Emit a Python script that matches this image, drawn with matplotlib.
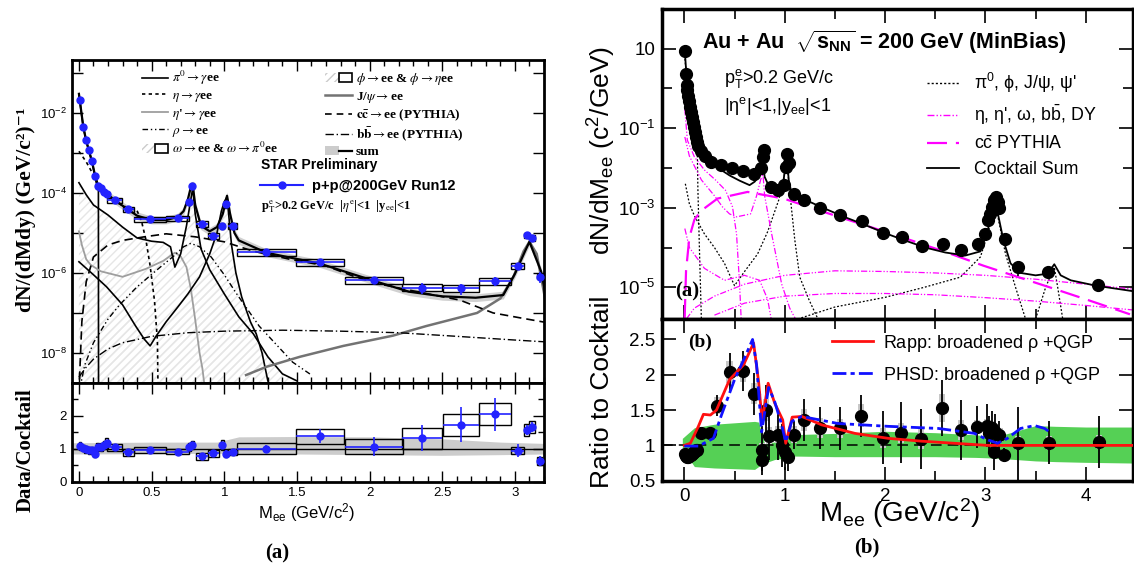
import numpy as np
import matplotlib.pyplot as plt
from matplotlib.patches import Rectangle, Patch
from matplotlib.lines import Line2D
from matplotlib.legend_handler import HandlerTuple
from matplotlib.ticker import MultipleLocator, FixedLocator, FuncFormatter, NullLocator, NullFormatter

SERIF = ['Liberation Serif', 'DejaVu Serif']
plt.rcParams['font.family'] = ['Liberation Sans', 'DejaVu Sans']
plt.rcParams['mathtext.fontset'] = 'custom'
plt.rcParams['mathtext.rm'] = 'Liberation Sans'
plt.rcParams['mathtext.it'] = 'Liberation Sans:italic'
plt.rcParams['mathtext.bf'] = 'Liberation Sans:bold'

# ---------------- panel (a): p+p 200 GeV ----------------
ppA_x = [0.007, 0.03, 0.047, 0.07, 0.09, 0.11, 0.13, 0.155, 0.175, 0.19, 0.245, 0.34, 0.49, 0.68, 0.76, 0.78,
         0.845, 0.925, 0.985, 1.01, 1.057, 1.29, 1.66, 2.03, 2.36, 2.63, 2.86, 3.02, 3.08, 3.12, 3.17]
ppA_xerr = [0.007, 0.01, 0.01, 0.01, 0.01, 0.01, 0.01, 0.01, 0.01, 0.01, 0.05, 0.04, 0.11, 0.08, 0.01, 0.01,
            0.04, 0.04, 0.01, 0.01, 0.03, 0.205, 0.165, 0.2, 0.135, 0.125, 0.11, 0.045, 0.02, 0.02, 0.015]
ppA_y = [2.1e-2, 4.4e-3, 2.1e-3, 1.2e-3, 6.3e-4, 2.6e-4, 1.45e-4, 1.3e-4, 1.07e-4, 9.3e-5, 6.5e-5, 3.9e-5,
         2.2e-5, 2.3e-5, 6e-5, 1.5e-4, 1.7e-5, 8.5e-6, 1.5e-5, 5.2e-5, 1.5e-5, 3.4e-6, 1.9e-6, 6.6e-7,
         4.3e-7, 4.1e-7, 6.2e-7, 1.5e-6, 8.7e-6, 7.6e-6, 8.1e-7]
ppA_relerr = [0.05, 0.05, 0.05, 0.05, 0.05, 0.05, 0.05, 0.05, 0.05, 0.05, 0.06, 0.06, 0.06, 0.08, 0.08, 0.06,
              0.08, 0.1, 0.08, 0.06, 0.08, 0.1, 0.15, 0.2, 0.3, 0.3, 0.25, 0.15, 0.1, 0.1, 0.3]
ppA_relsys = [0.12, 0.12, 0.12, 0.12, 0.12, 0.12, 0.12, 0.12, 0.12, 0.12, 0.15, 0.15, 0.15, 0.15, 0.15, 0.15,
              0.17, 0.17, 0.17, 0.17, 0.17, 0.2, 0.2, 0.2, 0.2, 0.2, 0.2, 0.15, 0.15, 0.15, 0.15]
ratioA_y = [1.07, 1.02, 0.98, 0.95, 0.95, 0.85, 1.05, 1.05, 1.1, 1.17, 1.04, 0.89, 0.96, 0.91, 1.05, 1.1,
            0.77, 0.86, 1.11, 0.85, 0.9, 1.0, 1.38, 1.06, 1.32, 1.73, 2.05, 0.94, 1.57, 1.65, 0.62]
ratioA_err = [0.05, 0.05, 0.05, 0.05, 0.05, 0.06, 0.06, 0.06, 0.06, 0.06, 0.06, 0.06, 0.06, 0.07, 0.08, 0.08,
              0.08, 0.1, 0.1, 0.1, 0.1, 0.1, 0.22, 0.29, 0.4, 0.52, 0.5, 0.2, 0.15, 0.15, 0.15]
ratioA_sys = [0.12, 0.1, 0.1, 0.1, 0.1, 0.1, 0.12, 0.12, 0.12, 0.15, 0.1, 0.1, 0.08, 0.08, 0.12, 0.12,
              0.1, 0.1, 0.15, 0.1, 0.08, 0.17, 0.23, 0.22, 0.32, 0.33, 0.34, 0.1, 0.18, 0.18, 0.12]
bandA_x = [-0.05, 0.5, 0.95, 1.1, 1.5, 2.0, 2.5, 2.9, 3.21]
bandA_hi = [1.18, 1.2, 1.2, 1.36, 1.37, 1.36, 1.3, 1.2, 1.16]
bandA_lo = [0.84, 0.85, 0.86, 0.86, 0.84, 0.82, 0.8, 0.82, 0.84]

pi0A_x = [0.0, 0.01, 0.03, 0.05, 0.07, 0.09, 0.11, 0.125, 0.134, 0.135]
pi0A_y = [3e-2, 1.5e-2, 4.4e-3, 2.0e-3, 1.1e-3, 6e-4, 2.6e-4, 1.5e-4, 1.2e-4, 1e-10]
etaA_x = [0.0, 0.05, 0.1, 0.15, 0.2, 0.3, 0.4, 0.43, 0.46, 0.49, 0.52, 0.54, 0.548]
etaA_y = [1.1e-3, 6e-4, 2.8e-4, 1.3e-4, 8e-5, 4.8e-5, 3.6e-5, 2e-5, 7e-6, 1.5e-6, 2e-7, 2e-8, 1e-10]
etapA_x = [0.0, 0.02, 0.05, 0.08, 0.15, 0.3, 0.46, 0.58, 0.66, 0.7, 0.74, 0.77, 0.8, 0.83, 0.85, 0.87]
etapA_y = [1.1e-5, 5e-6, 2.2e-6, 1.6e-6, 1.1e-6, 8e-7, 1.26e-6, 2e-6, 3.2e-6, 2.6e-6, 1.4e-6, 4e-7,
           6.8e-8, 1e-8, 4e-9, 1e-9]
rhoA_x = [0.0, 0.04, 0.1, 0.2, 0.28, 0.4, 0.56, 0.65, 0.72, 0.77, 0.83, 0.91, 1.0, 1.08, 1.24, 1.47, 1.6]
rhoA_y = [1e-9, 5e-9, 1.8e-8, 7e-8, 1.6e-7, 4.5e-7, 1.4e-6, 2.6e-6, 4.5e-6, 5.5e-6, 4.5e-6, 2.5e-6,
          9e-7, 3.2e-7, 4.7e-8, 5.9e-9, 2.8e-9]
omegaA_x = [0.0, 0.05, 0.1, 0.2, 0.3, 0.4, 0.5, 0.58, 0.63, 0.66, 0.7, 0.74, 0.77, 0.783, 0.8, 0.84,
            0.9, 1.0, 1.1, 1.2, 1.3, 1.4, 1.5]
omegaA_y = [1.8e-4, 9e-5, 5e-5, 2.8e-5, 1.4e-5, 7.5e-6, 6.2e-6, 5.8e-6, 4.5e-6, 1.4e-6, 3e-6, 1.5e-5,
            7e-5, 1.3e-4, 3e-5, 4e-6, 1.2e-6, 3e-7, 8e-8, 3e-8, 8e-9, 3e-9, 2e-9]
phiA_x = [0.0, 0.1, 0.19, 0.3, 0.39, 0.45, 0.49, 0.53, 0.6, 0.68, 0.75, 0.83, 0.9, 0.95, 0.98, 1.0,
          1.019, 1.03, 1.05, 1.08, 1.12, 1.18, 1.22, 1.26, 1.3]
phiA_y = [1.9e-6, 9e-7, 4.5e-7, 1.6e-7, 4.7e-8, 2.2e-8, 1.5e-8, 2.6e-8, 6e-8, 1.4e-7, 3e-7, 8e-7,
          3e-6, 1e-5, 3.5e-5, 6e-5, 8e-5, 3e-5, 5e-6, 1e-6, 2.5e-7, 6e-8, 3e-8, 1e-8, 2e-9]
jpsiA_x = [1.15, 1.29, 1.52, 1.82, 2.16, 2.39, 2.74, 2.9, 2.99, 3.06, 3.1, 3.15, 3.2, 3.21]
jpsiA_y = [2.8e-9, 4.5e-9, 8e-9, 1.5e-8, 2.7e-8, 4.7e-8, 1e-7, 2.3e-7, 8e-7, 3.5e-6, 6e-6, 3e-6,
           3.2e-7, 2e-7]
ccA_x = [0.0, 0.02, 0.05, 0.1, 0.2, 0.3, 0.45, 0.6, 0.8, 1.0, 1.2, 1.45, 1.7, 1.9, 2.1, 2.4, 2.62,
         2.85, 3.03, 3.2]
ccA_y = [1e-9, 6e-8, 6e-7, 2.5e-6, 5e-6, 6.5e-6, 8e-6, 9.5e-6, 8e-6, 6e-6, 3.5e-6, 2.2e-6, 1.5e-6,
         8e-7, 5e-7, 3e-7, 2.1e-7, 1e-7, 7.6e-8, 5.9e-8]
bbA_x = [0.0, 0.05, 0.1, 0.2, 0.3, 0.5, 0.75, 1.0, 1.4, 1.8, 2.2, 2.6, 3.0, 3.2]
bbA_y = [2.5e-9, 4.4e-9, 7e-9, 1.26e-8, 1.8e-8, 2.6e-8, 3.2e-8, 3.5e-8, 3.7e-8, 3.5e-8, 3.2e-8,
         2.6e-8, 2.1e-8, 1.9e-8]
sumA_x = [0.0, 0.01, 0.03, 0.05, 0.07, 0.09, 0.11, 0.13, 0.15, 0.2, 0.25, 0.3, 0.35, 0.4, 0.5, 0.6,
          0.68, 0.72, 0.75, 0.77, 0.783, 0.8, 0.84, 0.9, 0.95, 0.99, 1.019, 1.04, 1.07, 1.1, 1.29, 1.66,
          2.02, 2.27, 2.5, 2.73, 2.92, 3.0, 3.07, 3.1, 3.18, 3.21]
sumA_y = [3e-2, 1.6e-2, 4.5e-3, 2e-3, 1.1e-3, 6e-4, 2.8e-4, 1.5e-4, 1.2e-4, 9e-5, 6.5e-5, 4.8e-5,
          3.6e-5, 2.7e-5, 2.1e-5, 2.1e-5, 2.5e-5, 3.5e-5, 7e-5, 1.4e-4, 1.6e-4, 5e-5, 1.5e-5, 1.1e-5,
          1.4e-5, 3e-5, 8.5e-5, 3e-5, 1e-5, 6.5e-6, 3.2e-6, 1.7e-6, 6.5e-7, 3.4e-7, 2.6e-7, 2.4e-7,
          2.8e-7, 9.5e-7, 3.5e-6, 6e-6, 1.1e-6, 3.1e-7]

# ---------------- panel (b): Au+Au 200 GeV ----------------
dataB_x = [0.005, 0.02, 0.023, 0.03, 0.04, 0.05, 0.06, 0.07, 0.08, 0.09, 0.10, 0.11, 0.12, 0.13, 0.14,
           0.17, 0.205, 0.27, 0.365, 0.47, 0.58, 0.69, 0.76, 0.78, 0.79, 0.86, 0.93, 0.99, 1.01, 1.02,
           1.045, 1.09, 1.195, 1.355, 1.555, 1.77, 1.98, 2.17, 2.37, 2.58, 2.76, 2.93, 3.0, 3.03, 3.05,
           3.065, 3.09, 3.11, 3.125, 3.135, 3.19, 3.32, 3.62, 4.12]
dataB_y = [8.6, 2.35, 1.23, 0.93, 0.65, 0.47, 0.34, 0.25, 0.19, 0.139, 0.104, 0.078, 0.059, 0.046, 0.036,
           0.026, 0.020, 0.014, 0.012, 0.0102, 0.0085, 0.0069, 0.0098, 0.0186, 0.0275, 0.0034, 0.0028,
           0.0037, 0.0107, 0.0224, 0.013, 0.0022, 0.00155, 0.001, 6.4e-4, 4.6e-4, 2.3e-4, 1.8e-4, 1.1e-4,
           1.25e-4, 8.9e-5, 1.2e-4, 2.2e-4, 4.9e-4, 7.1e-4, 1.05e-3, 1.55e-3, 1.85e-3, 1.4e-3, 9.6e-4,
           1.66e-4, 3.3e-5, 2.4e-5, 1.15e-5]
dataB_relerr = [0.02, 0.02, 0.02, 0.02, 0.02, 0.02, 0.02, 0.02, 0.02, 0.02, 0.02, 0.02, 0.02, 0.02, 0.02,
                0.03, 0.03, 0.04, 0.05, 0.06, 0.07, 0.08, 0.08, 0.05, 0.05, 0.1, 0.1, 0.1, 0.06, 0.05,
                0.06, 0.1, 0.12, 0.12, 0.15, 0.15, 0.2, 0.22, 0.25, 0.2, 0.25, 0.15, 0.12, 0.1, 0.08,
                0.06, 0.05, 0.05, 0.05, 0.06, 0.1, 0.4, 0.3, 0.25]
piB_x = [0.0, 0.02, 0.05, 0.08, 0.1, 0.12, 0.13, 0.135, 0.15, 0.17]
piB_y = [8.5, 2.2, 0.45, 0.17, 0.09, 0.05, 0.02, 3e-3, 1e-4, 1.5e-6]
phiB_x = [0.01, 0.05, 0.1, 0.2, 0.3, 0.4, 0.5, 0.6, 0.73, 0.83, 0.94, 0.99, 1.019, 1.05, 1.1, 1.15,
          1.24, 1.35]
phiB_y = [4e-3, 1.26e-3, 6.3e-4, 2.2e-4, 1e-4, 4e-5, 1.1e-5, 2.5e-5, 6.9e-5, 2.5e-4, 1.55e-3, 5e-3,
          1.8e-2, 2.5e-3, 1.6e-4, 1.8e-5, 5e-6, 1.26e-6]
jpsiB_x = [1.13, 1.5, 2.0, 2.39, 2.75, 2.95, 3.03, 3.07, 3.097, 3.13, 3.2, 3.3, 3.4]
jpsiB_y = [1.6e-6, 3.2e-6, 5.6e-6, 1e-5, 1.8e-5, 5.8e-5, 2.5e-4, 7.9e-4, 1.4e-3, 5e-4, 6.9e-5, 1e-5, 1.6e-6]
psi2B_x = [3.5, 3.6, 3.65, 3.686, 3.72, 3.77]
psi2B_y = [1.6e-6, 1e-5, 2e-5, 3.2e-5, 1e-5, 1.6e-6]
etaB_x = [0.005, 0.03, 0.1, 0.2, 0.31, 0.41, 0.48, 0.52, 0.55, 0.57]
etaB_y = [0.3, 0.05, 0.019, 8.9e-3, 5e-3, 2.75e-3, 1.05e-3, 2.2e-4, 1.26e-5, 1e-6]
omegaB_x = [0.005, 0.05, 0.17, 0.3, 0.38, 0.45, 0.52, 0.6, 0.66, 0.72, 0.76, 0.783, 0.8, 0.87, 0.97,
            1.05, 1.15]
omegaB_y = [0.06, 0.02, 5e-3, 2e-3, 1.05e-3, 7e-4, 5.9e-4, 6.5e-4, 7e-4, 2e-3, 5e-3, 7.2e-3, 2e-3,
            2.2e-4, 1.2e-5, 3e-6, 1e-6]
etapB_x = [0.005, 0.05, 0.2, 0.4, 0.6, 0.75, 0.83, 0.88, 0.93]
etapB_y = [3e-4, 1e-4, 3e-5, 1.5e-5, 2e-5, 1.5e-5, 5e-6, 1e-6, 5e-7]
bbB_x = [0.02, 0.1, 0.3, 0.6, 1.0, 1.5, 2.0, 2.5, 3.0, 3.5, 4.0, 4.47]
bbB_y = [1.6e-6, 3e-6, 6e-6, 1.2e-5, 2e-5, 2.6e-5, 2.5e-5, 2.3e-5, 2e-5, 1.6e-5, 1.2e-5, 9e-6]
dyB_x = [0.3, 0.6, 1.0, 1.5, 2.0, 2.5, 3.0, 3.5, 4.0, 4.47]
dyB_y = [2e-6, 4e-6, 6e-6, 7e-6, 7e-6, 6.5e-6, 5.5e-6, 4.5e-6, 3.5e-6, 2.7e-6]
ccB_x = [0.003, 0.017, 0.05, 0.1, 0.17, 0.33, 0.63, 0.99, 1.3, 1.65, 2.0, 2.32, 2.65, 2.98, 3.3, 3.64,
         4.0, 4.44]
ccB_y = [1.6e-6, 2.6e-5, 1.8e-4, 5e-4, 8.5e-4, 1.7e-3, 2.5e-3, 1.7e-3, 9.3e-4, 4.8e-4, 2.5e-4, 1.35e-4,
         7e-5, 3.5e-5, 1.9e-5, 1e-5, 5e-6, 2.1e-6]
sumB_x = [0.005, 0.02, 0.03, 0.05, 0.07, 0.09, 0.11, 0.13, 0.15, 0.2, 0.3, 0.45, 0.55, 0.65, 0.7, 0.74,
          0.77, 0.783, 0.8, 0.86, 0.92, 0.98, 1.0, 1.019, 1.04, 1.07, 1.2, 1.4, 1.6, 1.8, 2.0, 2.2, 2.4,
          2.6, 2.8, 2.95, 3.02, 3.06, 3.097, 3.13, 3.18, 3.25, 3.35, 3.5, 3.62, 3.686, 3.75, 3.85, 4.1, 4.47]
sumB_y = [8.6, 2.3, 0.95, 0.45, 0.25, 0.135, 0.075, 0.045, 0.03, 0.019, 0.0115, 0.0065, 0.0048, 0.0037,
          0.0045, 0.006, 0.011, 0.014, 0.006, 0.0028, 0.0028, 0.0035, 0.008, 0.022, 0.005, 0.0022,
          0.0016, 0.00095, 5.8e-4, 3.7e-4, 2.3e-4, 1.5e-4, 1.0e-4, 7.5e-5, 6.3e-5, 8e-5, 2.5e-4, 7e-4,
          1.5e-3, 6e-4, 1.5e-4, 4e-5, 2.3e-5, 2e-5, 2.2e-5, 3.8e-5, 2e-5, 1.5e-5, 1.1e-5, 8e-6]

rB_x = [0.005, 0.02, 0.03, 0.04, 0.05, 0.06, 0.07, 0.08, 0.09, 0.10, 0.11, 0.12, 0.13,
        0.17, 0.26, 0.33, 0.45, 0.58, 0.69, 0.77, 0.775, 0.81, 0.845, 0.93, 0.97, 1.0, 1.03, 1.09, 1.19,
        1.35, 1.555, 1.76, 1.98, 2.16, 2.36, 2.57, 2.76, 2.92, 3.02, 3.04, 3.07, 3.09, 3.1, 3.14, 3.18,
        3.32, 3.63, 4.13]
rB_y = [0.88, 0.85, 0.84, 0.84, 0.85, 0.86, 0.87, 0.88, 0.89, 0.90, 0.92, 0.93, 0.94,
        1.17, 1.17, 1.56, 2.04, 2.05, 1.73, 0.79, 0.93, 1.50, 1.14, 1.15, 1.0, 0.9, 0.84, 1.15, 1.36,
        1.25, 1.24, 1.42, 1.11, 1.18, 1.09, 1.53, 1.22, 1.26, 1.28, 1.17, 1.24, 0.90, 1.19, 1.15, 0.87,
        1.03, 1.04, 1.05]
rB_err = [0.04, 0.04, 0.04, 0.04, 0.04, 0.04, 0.04, 0.04, 0.04, 0.04, 0.04, 0.04, 0.04,
          0.08, 0.08, 0.15, 0.27, 0.28, 0.3, 0.15, 0.35, 0.35, 0.35, 0.35, 0.3, 0.25, 0.2, 0.2, 0.3,
          0.3, 0.3, 0.3, 0.38, 0.43, 0.42, 0.4, 0.42, 0.3, 0.3, 0.25, 0.25, 0.25, 0.25, 0.2, 0.1,
          0.52, 0.31, 0.37]
rB_sys = [0.05, 0.05, 0.05, 0.05, 0.05, 0.05, 0.05, 0.05, 0.05, 0.05, 0.05, 0.05, 0.05,
          0.08, 0.08, 0.12, 0.15, 0.15, 0.15, 0.08, 0.1, 0.15, 0.12, 0.12, 0.1, 0.1, 0.1, 0.12, 0.15,
          0.14, 0.14, 0.16, 0.14, 0.14, 0.14, 0.2, 0.14, 0.1, 0.1, 0.1, 0.1, 0.08, 0.1, 0.1, 0.06,
          0.1, 0.1, 0.1]
greenB_x = [-0.02, 0.1, 0.3, 0.5, 0.7, 0.74, 0.8, 0.9, 1.0, 1.05, 1.5, 2.0, 2.5, 2.9, 3.1, 3.3, 3.5,
            3.7, 4.0, 4.47]
greenB_hi = [1.1, 1.25, 1.3, 1.32, 1.34, 1.33, 1.02, 1.05, 1.1, 1.15, 1.17, 1.2, 1.18, 1.15, 1.12, 1.2,
             1.28, 1.27, 1.26, 1.26]
greenB_lo = [0.95, 0.7, 0.68, 0.67, 0.66, 0.7, 0.75, 0.8, 0.82, 0.85, 0.84, 0.84, 0.84, 0.83, 0.82, 0.8,
             0.78, 0.77, 0.76, 0.75]
rapp_x = [0.0, 0.06, 0.14, 0.19, 0.26, 0.32, 0.45, 0.59, 0.69, 0.74, 0.775, 0.835, 0.9, 0.98, 1.01,
          1.075, 1.17, 1.37, 1.7, 2.03, 2.36, 2.69, 3.02, 4.47]
rapp_y = [1.0, 1.03, 1.27, 1.44, 1.43, 1.5, 1.93, 2.14, 2.45, 1.9, 1.34, 1.88, 1.6, 1.36, 1.03, 1.4,
          1.41, 1.29, 1.17, 1.1, 1.06, 1.03, 1.0, 1.0]
phsd_x = [0.0, 0.14, 0.29, 0.37, 0.5, 0.6, 0.68, 0.72, 0.77, 0.84, 0.9, 0.97, 1.01, 1.07, 1.17, 1.53,
          2.03, 2.53, 2.89, 3.02, 3.12, 3.22, 3.35, 3.49, 3.59, 3.64]
phsd_y = [0.99, 0.99, 1.1, 1.43, 1.93, 2.24, 2.5, 2.14, 1.19, 1.82, 1.62, 1.29, 1.05, 1.34, 1.41, 1.31,
          1.27, 1.24, 1.17, 1.08, 1.03, 1.1, 1.24, 1.28, 1.24, 1.19]

# ---------------- figure ----------------
fig = plt.figure(figsize=(11.34, 5.68), dpi=100)
axA = fig.add_axes([0.0632, 0.3262, 0.4165, 0.5681])
axAr = fig.add_axes([0.0632, 0.1519, 0.4165, 0.1743], sharex=axA)
axB = fig.add_axes([0.5840, 0.4384, 0.4151, 0.5461])
axBr = fig.add_axes([0.5840, 0.1537, 0.4151, 0.2847], sharex=axB)

BLUE = '#2323ff'
MAG = '#ff00ff'
LS_RHO = (0, (4, 2, 1, 2, 1, 2))
LS_BB = (0, (6, 2, 1, 2))

# left main
axA.set_yscale('log')
axA.fill_between(omegaA_x, omegaA_y, 1e-12, facecolor='none', edgecolor='0.9', hatch='////', lw=0, zorder=0)
axA.fill_between(phiA_x, phiA_y, 1e-12, facecolor='none', edgecolor='0.9', hatch='////', lw=0, zorder=0)
axA.fill_between(sumA_x, np.array(sumA_y) * 0.8, np.array(sumA_y) * 1.25, color='0.82', lw=0, zorder=1)
axA.plot(pi0A_x, pi0A_y, 'k-', lw=1.2)
axA.plot(etaA_x, etaA_y, color='k', ls=(0, (2, 2)), lw=1.2)
axA.plot(etapA_x, etapA_y, color='0.62', lw=1.3)
axA.plot(rhoA_x, rhoA_y, color='k', ls=LS_RHO, lw=1.0)
axA.plot(omegaA_x, omegaA_y, 'k-', lw=1.2)
axA.plot(phiA_x, phiA_y, 'k-', lw=1.2)
axA.plot(jpsiA_x, jpsiA_y, color='0.45', lw=1.8)
axA.plot(ccA_x, ccA_y, color='k', ls=(0, (5, 3)), lw=1.2)
axA.plot(bbA_x, bbA_y, color='k', ls=LS_BB, lw=1.0)
axA.plot(sumA_x, sumA_y, 'k-', lw=1.6, zorder=3)
for x, y, xe, s in zip(ppA_x, ppA_y, ppA_xerr, ppA_relsys):
    axA.add_patch(Rectangle((x - xe, y * (1 - s)), 2 * xe, y * 2 * s, facecolor='none',
                            edgecolor='k', lw=1.0, zorder=4))
axA.errorbar(ppA_x, ppA_y, xerr=ppA_xerr, yerr=np.array(ppA_y) * np.array(ppA_relerr), fmt='o',
             color=BLUE, ms=5, lw=1.2, capsize=0, zorder=6)
axA.set_ylim(1.8e-9, 0.21)
axA.set_xlim(-0.05, 3.2)

h_box = (Patch(facecolor='white', edgecolor='0.8', hatch='////', lw=0),
         Patch(facecolor='none', edgecolor='k', lw=1.2))
handlesA = [Line2D([], [], color='k', lw=1.2), Line2D([], [], color='k', ls=(0, (2, 2)), lw=1.2),
            Line2D([], [], color='0.62', lw=1.3), Line2D([], [], color='k', ls=LS_RHO, lw=1.0), h_box,
            h_box, Line2D([], [], color='0.45', lw=1.8), Line2D([], [], color='k', ls=(0, (4, 3)), lw=1.2),
            Line2D([], [], color='k', ls=LS_BB, lw=1.0),
            (Patch(facecolor='0.8', lw=0), Line2D([], [], color='k', lw=1.6))]
labelsA = [r'$\pi^0\rightarrow\gamma$ee', r'$\eta\rightarrow\gamma$ee', r"$\eta$'$\rightarrow\gamma$ee",
           r'$\rho\rightarrow$ee', r'$\omega\rightarrow$ee & $\omega\rightarrow\pi^0$ee',
           r'$\phi\rightarrow$ee & $\phi\rightarrow\eta$ee', r'J/$\psi\rightarrow$ee',
           r'$\mathbf{c\bar{c}}\rightarrow$ee (PYTHIA)', r'$\mathbf{b\bar{b}}\rightarrow$ee (PYTHIA)', 'sum']
legA = axA.legend(handlesA, labelsA, ncol=2, loc='upper left', bbox_to_anchor=(0.148, 0.972),
                  frameon=False, borderpad=0, borderaxespad=0, handlelength=2.0, handletextpad=0.3,
                  columnspacing=3.6, labelspacing=0.2,
                  prop={'family': SERIF, 'weight': 'bold', 'size': 9.5},
                  handler_map={tuple: HandlerTuple(ndivide=None, pad=0)})
for t in legA.get_texts():
    t.set_math_fontfamily('stix')
axA.add_artist(legA)
legA2 = axA.legend([Line2D([], [], color=BLUE, marker='o', ms=5, lw=1.5)], ['p+p@200GeV Run12'],
                   loc='center left', bbox_to_anchor=(0.398, 0.61), frameon=False, borderpad=0,
                   borderaxespad=0, handlelength=3.0, handletextpad=0.6,
                   prop={'weight': 'bold', 'size': 10.5})
axA.text(0.401, 0.675, 'STAR Preliminary', transform=axA.transAxes, fontsize=10, fontweight='bold',
         va='center', ha='left')
axA.text(0.401, 0.545, r'p$_\mathrm{T}^\mathrm{e}$>0.2 GeV/c  |$\eta^\mathrm{e}$|<1  |y$_\mathrm{ee}$|<1',
         transform=axA.transAxes, fontsize=9, fontweight='bold', family=SERIF, va='center', ha='left',
         math_fontfamily='stix')

# left ratio
axAr.fill_between(bandA_x, bandA_lo, bandA_hi, color='0.8', lw=0, zorder=1)
axAr.axhline(1.0, color='k', lw=1.0, zorder=2)
for x, y, xe, s in zip(ppA_x, ratioA_y, ppA_xerr, ratioA_sys):
    axAr.add_patch(Rectangle((x - xe, y - s), 2 * xe, 2 * s, facecolor='none', edgecolor='k', lw=1.0,
                             zorder=3))
axAr.errorbar(ppA_x, ratioA_y, xerr=ppA_xerr, yerr=ratioA_err, fmt='o', color=BLUE, ms=5, lw=1.2,
              capsize=0, zorder=6)
axAr.set_ylim(0, 3)

exp_fmt_A = FuncFormatter(lambda v, p: r'$10^{%d}$' % round(np.log10(v)) if round(np.log10(v)) % 2 == 0 else '')
axA.yaxis.set_major_locator(FixedLocator([10.0 ** e for e in range(-9, 0)]))
axA.yaxis.set_major_formatter(exp_fmt_A)
axA.yaxis.set_minor_locator(NullLocator())
axA.yaxis.set_minor_formatter(NullFormatter())
axAr.yaxis.set_major_locator(FixedLocator([0, 1, 2]))
axAr.yaxis.set_minor_locator(MultipleLocator(0.5))
axAr.xaxis.set_major_locator(MultipleLocator(0.5))
axAr.xaxis.set_minor_locator(MultipleLocator(0.1))
axAr.xaxis.set_major_formatter(FuncFormatter(lambda v, p: '%g' % v))
axAr.yaxis.set_major_formatter(FuncFormatter(lambda v, p: '%g' % v))
for ax in (axA, axAr):
    ax.tick_params(which='both', direction='in', top=True, right=True, labelsize=9.5, width=1.0)
    ax.tick_params(which='major', length=8)
    ax.tick_params(which='minor', length=4)
    for sp in ax.spines.values():
        sp.set_linewidth(2.0)
axA.tick_params(labelbottom=False)

fig.text(26 / 1134, 1 - 210 / 568, 'dN/(dMdy) (GeV/c²)⁻¹', rotation=90, ha='center', va='center',
         family=SERIF, fontweight='bold', fontsize=15.5)
fig.text(26 / 1134, 1 - 450 / 568, 'Data/Cocktail', rotation=90, ha='center', va='center',
         family=SERIF, fontweight='bold', fontsize=15)
fig.text(307 / 1134, 1 - 513 / 568, r'M$_\mathrm{ee}$ (GeV/c$^2$)', ha='center', va='center', fontsize=12)
fig.text(277 / 1134, 1 - 553 / 568, '(a)', ha='center', va='center', family=SERIF, fontweight='bold',
         fontsize=15)

# right main
axB.set_yscale('log')
axB.plot(piB_x, piB_y, color='k', ls=(0, (1.5, 1.5)), lw=0.9)
axB.plot(phiB_x, phiB_y, color='k', ls=(0, (1.5, 1.5)), lw=0.9)
axB.plot(jpsiB_x, jpsiB_y, color='k', ls=(0, (1.5, 1.5)), lw=0.9)
axB.plot(psi2B_x, psi2B_y, color='k', ls=(0, (1.5, 1.5)), lw=0.9)
LS_MAG = (0, (5, 1.5, 1, 1.5, 1, 1.5))
for xs, ys in ((etaB_x, etaB_y), (omegaB_x, omegaB_y), (etapB_x, etapB_y), (bbB_x, bbB_y), (dyB_x, dyB_y)):
    axB.plot(xs, ys, color=MAG, ls=LS_MAG, lw=0.9)
axB.plot(ccB_x, ccB_y, color=MAG, ls=(0, (9, 4)), lw=1.6)
axB.plot(sumB_x, sumB_y, 'k-', lw=1.3, zorder=4)
axB.errorbar(dataB_x, dataB_y, yerr=np.array(dataB_y) * np.array(dataB_relerr), fmt='o', color='k',
             ms=8.5, lw=1.2, capsize=0, zorder=5)
axB.set_ylim(1.6e-6, 100)
axB.set_xlim(-0.22, 4.47)
handlesB = [Line2D([], [], color='k', ls=(0, (1.5, 1.5)), lw=1),
            Line2D([], [], color=MAG, ls=LS_MAG, lw=1),
            Line2D([], [], color=MAG, ls=(0, (9, 4)), lw=1.6),
            Line2D([], [], color='k', lw=1.3)]
labelsB = [r"$\mathrm{\pi}^0$, $\mathrm{\phi}$, J/$\mathrm{\psi}$, $\mathrm{\psi}$'",
           r"$\mathrm{\eta}$, $\mathrm{\eta}$', $\mathrm{\omega}$, b$\bar{\mathrm{b}}$, DY",
           r'c$\bar{\mathrm{c}}$ PYTHIA', 'Cocktail Sum']
axB.legend(handlesB, labelsB, loc='upper left', bbox_to_anchor=(0.562, 0.80), frameon=False, borderpad=0,
           borderaxespad=0, handlelength=1.8, handletextpad=0.85, labelspacing=0.45, fontsize=12.8)
axB.text(702 / 1134, 1 - 42 / 568, r'Au + Au  $\mathbf{\sqrt{s_{NN}}}$ = 200 GeV (MinBias)',
         transform=fig.transFigure, fontsize=15.5, fontweight='bold', ha='left', va='center')
axB.text(724 / 1134, 1 - 78 / 568, r'p$_\mathrm{T}^\mathrm{e}$>0.2 GeV/c', transform=fig.transFigure,
         fontsize=13, ha='left', va='center')
axB.text(724 / 1134, 1 - 106 / 568, r'|$\mathrm{\eta}^\mathrm{e}$|<1,|y$_\mathrm{ee}$|<1',
         transform=fig.transFigure, fontsize=13, ha='left', va='center')
axB.text(687 / 1134, 1 - 291 / 568, '(a)', transform=fig.transFigure, family=SERIF, fontweight='bold',
         fontsize=15, ha='center', va='center')

# right ratio
axBr.fill_between(greenB_x, greenB_lo, greenB_hi, color='#55d055', lw=0, zorder=1)
for x, y, s in zip(rB_x, rB_y, rB_sys):
    axBr.add_patch(Rectangle((x - 0.03, y - s), 0.06, 2 * s, facecolor='0.78', edgecolor='none', zorder=2))
axBr.axhline(1.0, color='k', ls=(0, (7, 4)), lw=1.1, zorder=3)
axBr.plot(rapp_x, rapp_y, color='#ff1010', lw=2.0, zorder=5, label=r'Rapp: broadened $\mathrm{\rho}$ +QGP')
axBr.plot(phsd_x, phsd_y, color='#1010ff', ls=(0, (5, 1.5, 1.5, 1.5)), lw=2.0, zorder=5,
          label=r'PHSD: broadened $\mathrm{\rho}$ +QGP')
axBr.errorbar(rB_x, rB_y, yerr=rB_err, fmt='o', color='k', ms=8.5, lw=1.3, capsize=0, zorder=4)
axBr.set_ylim(0.5, 2.79)
axBr.legend(loc='upper left', bbox_to_anchor=(0.36, 0.915), frameon=False, borderpad=0, borderaxespad=0,
            handlelength=2.3, handletextpad=0.55, labelspacing=0.6, fontsize=13)
axBr.text(700 / 1134, 1 - 342 / 568, '(b)', transform=fig.transFigure, family=SERIF, fontweight='bold',
          fontsize=14, ha='center', va='center')

exp_fmt_B = FuncFormatter(lambda v, p: '10' if round(np.log10(v)) == 1 else r'$10^{%d}$' % round(np.log10(v)))
axB.yaxis.set_major_locator(FixedLocator([1e-5, 1e-3, 1e-1, 10]))
axB.yaxis.set_major_formatter(exp_fmt_B)
axB.yaxis.set_minor_locator(FixedLocator([1e-6, 1e-4, 1e-2, 1, 100]))
axB.yaxis.set_minor_formatter(NullFormatter())
axBr.yaxis.set_major_locator(FixedLocator([0.5, 1, 1.5, 2, 2.5]))
axBr.yaxis.set_minor_locator(NullLocator())
axBr.yaxis.set_major_formatter(FuncFormatter(lambda v, p: '%g' % v))
axBr.xaxis.set_major_locator(MultipleLocator(1))
axBr.xaxis.set_minor_locator(MultipleLocator(0.5))
axBr.xaxis.set_major_formatter(FuncFormatter(lambda v, p: '%g' % v))
for ax in (axB, axBr):
    ax.tick_params(which='both', direction='in', top=True, right=True, labelsize=13.5, width=1.2, pad=5)
    ax.tick_params(which='major', length=10)
    ax.tick_params(which='minor', length=7)
    for sp in ax.spines.values():
        sp.set_linewidth(2.5)
axB.tick_params(labelbottom=False)

fig.text(602 / 1134, 1 - 150 / 568, r'dN/dM$_\mathrm{ee}$ (c$^2$/GeV)', rotation=90, ha='center',
         va='center', fontsize=19)
fig.text(602 / 1134, 1 - 392 / 568, 'Ratio to Cocktail', rotation=90, ha='center', va='center', fontsize=19)
fig.text(900 / 1134, 1 - 513 / 568, r'M$_\mathrm{ee}$ (GeV/c$^2$)', ha='center', va='center', fontsize=20)
fig.text(867 / 1134, 1 - 547 / 568, '(b)', ha='center', va='center', family=SERIF, fontweight='bold',
         fontsize=15)

fig.savefig('out.png', dpi=100)
